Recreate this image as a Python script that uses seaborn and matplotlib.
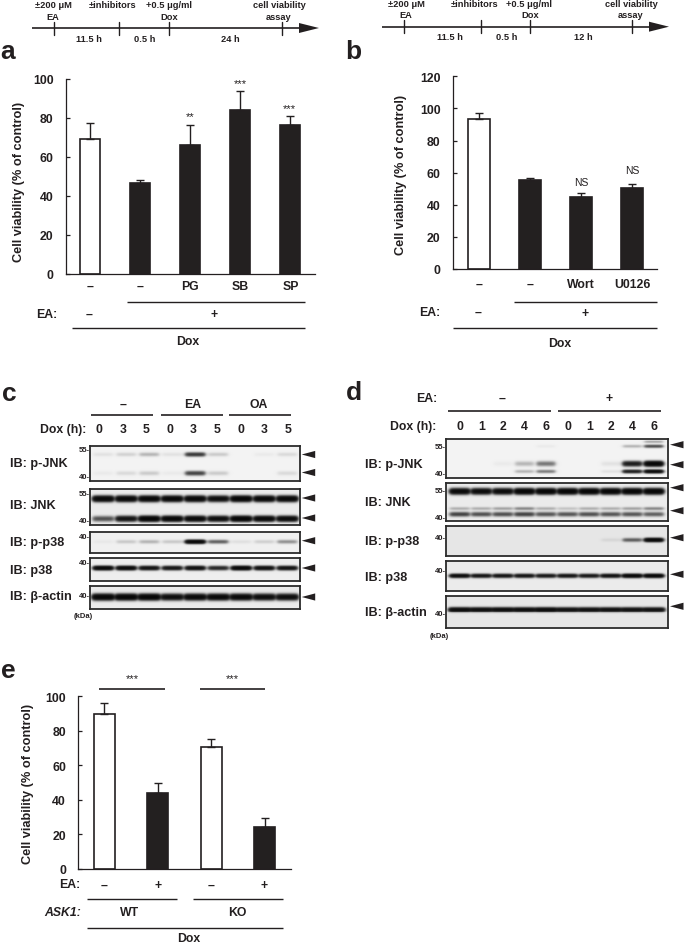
""" Viability bars and western blots, panels a to e. """

import numpy as np
import pandas as pd
import seaborn as sns
import matplotlib.pyplot as plt
from matplotlib.patches import Polygon

W, H = 685, 945
INK = '#231f20'

# Panel a
a_labels = ['–', '–', 'PG', 'SB', 'SP']
a_values = [69, 46.5, 66, 84, 76.5]
a_errors = [8.5, 1.5, 10.5, 10, 4.5]
a_colors = ['white', INK, INK, INK, INK]

# Panel b
b_labels = ['–', '–', 'Wort', 'U0126']
b_values = [93.5, 55.5, 45, 50.5]
b_errors = [3.7, 1.3, 2.4, 2.6]
b_colors = ['white', INK, INK, INK]

# Panel e
e_labels = ['–', '+', '–', '+']
e_values = [89.5, 44, 70.5, 24.5]
e_errors = [6.8, 6, 5, 4.8]
e_colors = ['white', INK, 'white', INK]

# Blot c, band strength per lane
c_dox = ['0', '3', '5', '0', '3', '5', '0', '3', '5']
c_pjnk_up = [.02, .04, .08, .02, .4, .05, .0, .01, .03]
c_pjnk_lo = [.01, .03, .05, .01, .35, .05, .0, .0, .03]
c_jnk_up = [.95, .95, .95, .95, .95, .8, 1, .95, .95]
c_jnk_lo = [.3, .7, 1, .95, .9, .8, 1, .9, .85]
c_pp38 = [.01, .05, .08, .05, .9, .25, .02, .04, .14]
c_p38 = [.9, .85, .7, .65, .75, .5, .9, .75, .7]
c_actin = [1, 1, 1, .8, .9, .9, .9, .8, .8]

# Blot d, band strength per lane
d_dox = ['0', '1', '2', '4', '6', '0', '1', '2', '4', '6']
d_pjnk_top = [0, 0, 0, 0, 0, 0, 0, 0, 0, .1]
d_pjnk_up = [0, 0, 0, 0, .01, 0, 0, 0, .08, .3]
d_pjnk_mid = [0, 0, .01, .08, .2, 0, 0, .02, .6, 1]
d_pjnk_lo = [0, 0, 0, .08, .18, 0, 0, .02, .55, .8]
d_jnk_up = [.9, .85, .85, 1, 1, 1, 1, 1, 1, 1]
d_jnk_mid = [.08, .08, .1, .15, .08, .05, .08, .08, .1, .15]
d_jnk_lo = [.35, .3, .3, .35, .28, .28, .3, .28, .28, .25]
d_pp38 = [0, 0, 0, 0, 0, 0, 0, .02, .25, .9]
d_p38 = [.85, .7, .7, .7, .65, .7, .65, .75, .95, .95]
d_actin = [.85, .8, .8, .8, .85, .75, .75, .75, .75, .75]

sns.set_style('ticks')
plt.rcParams['font.family'] = ['Liberation Sans', 'DejaVu Sans']

fig = plt.figure(figsize=(W / 100, H / 100), dpi=100)

# everything that is not a bar or a blot goes on this overlay, in pixels
ov = fig.add_axes([0, 0, 1, 1], zorder=10)
ov.set_xlim(0, W)
ov.set_ylim(H, 0)
ov.axis('off')
ov.patch.set_alpha(0)


def box_axes(left, top, right, bottom):
    return fig.add_axes([left / W, 1 - bottom / H, (right - left) / W, (bottom - top) / H])


def txt(x, y, s, size=8.8, bold=True, ha='center', **kw):
    ov.text(x, y, s, fontsize=size, fontweight='bold' if bold else 'normal',
            ha=ha, va='center', color=INK, **kw)


def rule(x0, x1, y, lw=1.0):
    ov.plot([x0, x1], [y, y], color=INK, lw=lw, solid_capstyle='butt')


def timeline(y, x0, x_end, ticks, texts):
    rule(x0, x_end - 19, y, lw=1.2)
    ov.add_patch(Polygon([(x_end - 20, y - 5), (x_end, y), (x_end - 20, y + 5)], color=INK, lw=0))
    for x in ticks:
        ov.plot([x, x], [y - 6.5, y + 6.5], color=INK, lw=1.0)
    for x, yy, s in texts:
        txt(x, yy, s, size=6.7)


def bars(box, labels, values, errors, colors, ymax, step, bar_width, xlim, pad):
    ax = box_axes(*box)
    df = pd.DataFrame({'lane': range(len(values)), 'value': values})
    sns.barplot(data=df, x='lane', y='value', hue='lane', palette=colors, dodge=False,
                width=bar_width, edgecolor=INK, linewidth=1.2, legend=False, ax=ax)
    ax.errorbar(df['lane'], df['value'], yerr=[[0] * len(errors), errors], fmt='none',
                ecolor=INK, elinewidth=1.0, capsize=2.6, capthick=1.0)
    ax.set_xlim(*xlim)
    ax.set_ylim(0, ymax)
    ax.set_yticks(range(0, ymax + 1, step))
    ax.set_xticks(df['lane'])
    ax.set_xticklabels(labels)
    ax.set_xlabel('')
    ax.set_ylabel('')
    ax.patch.set_alpha(0)
    ax.tick_params(axis='y', direction='in', length=2.8, width=0.9, color=INK, pad=8.8, labelcolor=INK)
    ax.tick_params(axis='x', length=0, pad=pad, labelcolor=INK)
    for t in ax.get_xticklabels() + ax.get_yticklabels():
        t.set_fontsize(8.8)
        t.set_fontweight('bold')
    for side in ['left', 'bottom']:
        ax.spines[side].set_linewidth(0.9)
        ax.spines[side].set_color(INK)
    sns.despine(ax=ax)


def blot(box, lanes, half_width, rows, bg):
    # rows: (band centre in px from top of box, sigma in px, strength per lane)
    left, top, right, bottom = box
    xs = np.arange(left, right, 0.5) + 0.25
    ys = np.arange(top, bottom, 0.5) + 0.25
    dens = np.zeros((len(ys), len(xs)))
    for yc, sig, strength in rows:
        prof = np.exp(-0.5 * ((ys - top - yc) / sig) ** 2)
        for cx, val in zip(lanes, strength):
            across = 0.5 * (np.tanh((xs - cx + half_width) / 2.2) - np.tanh((xs - cx - half_width) / 2.2))
            dens += val * np.outer(prof, across)
    ax = box_axes(*box)
    sns.heatmap(bg * np.exp(-3.5 * dens), vmin=0, vmax=1, cmap='gray', cbar=False,
                xticklabels=False, yticklabels=False, rasterized=True, ax=ax)
    for side in ax.spines:
        ax.spines[side].set_visible(True)
        ax.spines[side].set_linewidth(1.3)
        ax.spines[side].set_color('#2b2b2b')


def arrowhead(x, y):
    ov.add_patch(Polygon([(x, y), (x + 13.5, y - 3.6), (x + 13.5, y + 3.6)], color=INK, lw=0))


# ---- panel a
timeline(29, 32, 319, [54.3, 119, 169, 282], [
    (53, 5, '±200 μM'), (53, 18, 'EA'), (113, 5, '±inhibitors'), (169, 5, '+0.5 μg/ml'),
    (169, 18, 'Dox'), (279, 5, 'cell viability'), (279, 18, 'assay'),
    (89, 39, '11.5 h'), (145, 39, '0.5 h'), (230, 39, '24 h')])
txt(0, 52, 'a', size=19, ha='left')
bars((65.7, 80, 315, 274.7), a_labels, a_values, a_errors, a_colors, 100, 20, 0.4, (-0.49, 4.49), 4.6)
txt(19, 182, 'Cell viability (% of control)', size=9.2, rotation=90)
for x, y, s in [(190, 117, '**'), (240.7, 84, '***'), (289, 109, '***')]:
    txt(x, y, s, size=8, bold=False)
rule(127, 305, 303)
txt(47, 315, 'EA:')
txt(89, 315, '–')
txt(214, 315, '+')
rule(71.7, 305, 329)
txt(188, 342, 'Dox')

# ---- panel b
timeline(27.7, 381.7, 669, [404, 480.7, 530, 632], [
    (406, 4.5, '±200 μM'), (406, 16, 'EA'), (475, 4.5, '±inhibitors'), (529, 4.5, '+0.5 μg/ml'),
    (530, 16, 'Dox'), (631, 4.5, 'cell viability'), (631, 16, 'assay'),
    (450, 38, '11.5 h'), (507, 38, '0.5 h'), (583, 38, '12 h')])
txt(345, 52, 'b', size=19, ha='left')
bars((452.7, 77.3, 656.7, 270), b_labels, b_values, b_errors, b_colors, 120, 20, 0.44, (-0.51, 3.48), 6.5)
txt(401, 175, 'Cell viability (% of control)', size=9.2, rotation=90)
txt(581, 183, 'NS', size=7.5, bold=False)
txt(632, 171, 'NS', size=7.5, bold=False)
rule(514, 657, 303.3)
txt(430, 313, 'EA:')
txt(478, 313, '–')
txt(585, 314, '+')
rule(453, 657, 329)
txt(560, 344, 'Dox')

# ---- panel c
txt(2, 394, 'c', size=19, ha='left')
txt(123, 405, '–')
txt(192.7, 405, 'EA')
txt(259, 405, 'OA')
for x0, x1 in [(91, 152.7), (161, 222.7), (229, 291)]:
    rule(x0, x1, 415.7, lw=1.2)
txt(63, 430.3, 'Dox (h):')
c_lanes = np.linspace(103, 287, 9)
for x, s in zip(np.linspace(99, 288, 9), c_dox):
    txt(x, 430.3, s)
blot((90, 447.3, 300, 482), c_lanes, 9.5, [(8.2, 1.4, c_pjnk_up), (27, 1.5, c_pjnk_lo)], .95)
blot((90, 490, 300, 525.7), c_lanes, 10, [(10, 1.9, c_jnk_up), (30, 1.8, c_jnk_lo)], .92)
blot((90, 532.7, 300, 554), c_lanes, 9.5, [(10, 1.3, c_pp38)], .94)
blot((90, 559, 300, 581.7), c_lanes, 9.5, [(10.3, 1.4, c_p38)], .93)
blot((90, 586.7, 300, 610), c_lanes, 10.5, [(11.3, 2.0, c_actin)], .92)
for y, s in [(463.7, 'IB: p-JNK'), (505.7, 'IB: JNK'), (542.7, 'IB: p-p38'), (570.7, 'IB: p38'), (597, 'IB: β-actin')]:
    txt(10, y, s, size=9.1, ha='left')
for y, s in [(450.3, '55-'), (477.7, '40-'), (495, '55-'), (521.7, '40-'), (537.3, '40-'), (563.3, '40-'), (596.7, '40-')]:
    txt(90, y, s, size=5.5, ha='right')
txt(83, 616, '(kDa)', size=5.5)
for y in [455.5, 473.5, 499, 519, 541.7, 569, 598]:
    arrowhead(301.7, y)

# ---- panel d
txt(346, 392.7, 'd', size=19, ha='left')
txt(427, 399, 'EA:')
txt(502.3, 399, '–')
txt(609, 399, '+')
for x0, x1 in [(447.7, 551), (558.3, 661.3)]:
    rule(x0, x1, 411.7, lw=1.2)
txt(413, 427, 'Dox (h):')
d_lanes = np.linspace(460, 654, 10)
for x, s in zip(np.linspace(460, 654, 10), d_dox):
    txt(x, 427, s)
blot((446, 440, 667.7, 478.7), d_lanes, 9,
     [(3, 0.9, d_pjnk_top), (7.5, 1.1, d_pjnk_up), (25, 1.7, d_pjnk_mid), (32.7, 1.2, d_pjnk_lo)], .95)
blot((446, 483.7, 667.7, 521.7), d_lanes, 9.5,
     [(8.6, 1.9, d_jnk_up), (26.3, 1.1, d_jnk_mid), (32, 1.5, d_jnk_lo)], .92)
blot((446, 527.3, 667.7, 557), d_lanes, 9, [(13.7, 1.3, d_pp38)], .9)
blot((446, 561.7, 667.7, 592.3), d_lanes, 9.5, [(15.3, 1.4, d_p38)], .92)
blot((446, 596.7, 667.7, 629.3), d_lanes, 10.5, [(14, 1.5, d_actin)], .9)
for y, s in [(464.7, 'IB: p-JNK'), (502.7, 'IB: JNK'), (541.7, 'IB: p-p38'), (577.7, 'IB: p38'), (613.3, 'IB: β-actin')]:
    txt(365.5, y, s, size=9.1, ha='left')
for y, s in [(447.3, '55-'), (474.3, '40-'), (491.3, '55-'), (518.7, '40-'), (538.3, '40-'), (571.7, '40-'), (614, '40-')]:
    txt(446, y, s, size=5.5, ha='right')
txt(439, 636.7, '(kDa)', size=5.5)
for y in [445.7, 465.7, 488.7, 511.7, 538.7, 575.3, 607.3]:
    arrowhead(670, y)

# ---- panel e
txt(1, 670.7, 'e', size=19, ha='left')
for x0, x1, xs in [(99, 165, 132), (200, 265, 232.5)]:
    rule(x0, x1, 689.7, lw=1.2)
    txt(xs, 679, '***', size=8, bold=False)
bars((78.3, 697.3, 290.7, 870), e_labels, e_values, e_errors, e_colors, 100, 20, 0.4, (-0.49, 3.49), 7)
txt(28, 784, 'Cell viability (% of control)', size=9.2, rotation=90)
txt(70, 885, 'EA:')
rule(87, 177, 900)
rule(193, 283, 900)
txt(63, 913, 'ASK1:', fontstyle='italic')
txt(130, 913, 'WT')
txt(237, 913, 'KO')
rule(87, 283, 929)
txt(189, 938.5, 'Dox')

plt.savefig('out.png', dpi=100)
